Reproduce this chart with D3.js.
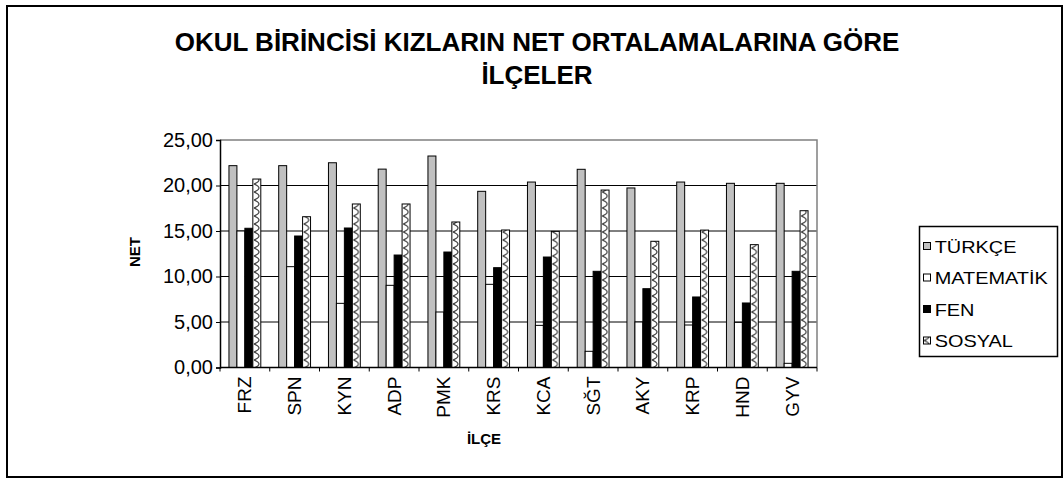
<!DOCTYPE html>
<html>
<head>
<meta charset="utf-8">
<script src="https://cdn.jsdelivr.net/npm/d3@7"></script>
<style>
  html, body { margin: 0; padding: 0; background: #ffffff; }
  svg { display: block; font-family: "Liberation Sans", Arial, sans-serif; }
</style>
</head>
<body>
<svg id="chart" width="1064" height="480"></svg>
<script>
// District codes along the x axis
const districts = ["FRZ", "SPN", "KYN", "ADP", "PMK", "KRS", "KCA", "SĞT", "AKY", "KRP", "HND", "GYV"];
// Subject series
const subjects = ["TÜRKÇE", "MATEMATİK", "FEN", "SOSYAL"];
// Average net scores per district
const turkce    = [22.18, 22.18, 22.50, 21.80, 23.24, 19.36, 20.38, 21.78, 19.73, 20.38, 20.24, 20.24];
const matematik = [15.00, 11.08, 7.05, 9.03, 6.10, 9.14, 4.63, 1.78, 5.00, 4.67, 4.96, 0.46];
const fen       = [15.30, 14.45, 15.33, 12.36, 12.69, 10.97, 12.14, 10.57, 8.66, 7.75, 7.09, 10.57];
const sosyal    = [20.71, 16.57, 17.97, 17.97, 15.99, 15.11, 14.96, 19.50, 13.87, 15.10, 13.50, 17.23];
// Value axis ticks
const yTicks = [0, 5, 10, 15, 20, 25];

const seriesValues = [turkce, matematik, fen, sosyal];
const rows = districts.map((d, i) => ({
  district: d,
  values: subjects.map((s, j) => ({ subject: s, value: seriesValues[j][i] }))
}));

const svg = d3.select("#chart");
const plot = { left: 220, right: 817, top: 140, bottom: 367.5 };

// Hatched fill for the SOSYAL series
const defs = svg.append("defs");
const pat = defs.append("pattern")
  .attr("id", "hatch")
  .attr("patternUnits", "userSpaceOnUse")
  .attr("width", 8).attr("height", 8);
pat.append("rect").attr("width", 8).attr("height", 8).attr("fill", "#ffffff");
pat.append("path")
  .attr("d", "M1,0 Q6,2 6,4 Q6,6 1,8")
  .attr("stroke", "#3a3a3a").attr("stroke-width", 1.2).attr("fill", "none");

const fills = {
  "TÜRKÇE": "#c0c0c0",
  "MATEMATİK": "#ffffff",
  "FEN": "#000000",
  "SOSYAL": "url(#hatch)"
};

// Outer frame
svg.append("rect")
  .attr("x", 7).attr("y", 6).attr("width", 1055).attr("height", 471)
  .attr("fill", "#fff").attr("stroke", "#000").attr("stroke-width", 2);

// Title
const title = svg.append("text")
  .attr("text-anchor", "middle")
  .attr("font-weight", "bold").attr("font-size", 26)
  .attr("fill", "#000");
title.append("tspan").attr("x", 537).attr("y", 51).text("OKUL BİRİNCİSİ KIZLARIN NET ORTALAMALARINA GÖRE");
title.append("tspan").attr("x", 537).attr("y", 84).text("İLÇELER");

const x0 = d3.scaleBand()
  .domain(districts)
  .range([plot.left, plot.right])
  .paddingInner(0.36)
  .paddingOuter(0.18);
const x1 = d3.scaleBand()
  .domain(subjects)
  .range([0, x0.bandwidth()]);
const y = d3.scaleLinear().domain([0, 25]).range([plot.bottom, plot.top]);

// Gridlines
svg.append("g")
  .selectAll("line")
  .data(yTicks.filter(t => t > 0 && t < 25))
  .join("line")
  .attr("x1", plot.left).attr("x2", plot.right)
  .attr("y1", d => y(d)).attr("y2", d => y(d))
  .attr("stroke", "#000").attr("stroke-width", 1);

// Plot frame: top and right edges
svg.append("path")
  .attr("d", `M${plot.left},${plot.top}H${plot.right}V${plot.bottom}`)
  .attr("fill", "none").attr("stroke", "#808080").attr("stroke-width", 1.5);

// Bars
const groups = svg.append("g")
  .selectAll("g")
  .data(rows)
  .join("g")
  .attr("transform", d => `translate(${x0(d.district)},0)`);
groups.selectAll("rect")
  .data(d => d.values)
  .join("rect")
  .attr("x", d => x1(d.subject))
  .attr("y", d => y(d.value))
  .attr("width", x1.bandwidth())
  .attr("height", d => y(0) - y(d.value))
  .attr("fill", d => fills[d.subject])
  .attr("stroke", "#000").attr("stroke-width", 1);

// Y axis
const yAxis = svg.append("g")
  .attr("transform", `translate(${plot.left},0)`)
  .call(d3.axisLeft(y).tickValues(yTicks).tickSize(4).tickPadding(3)
    .tickFormat(d => d3.format(".2f")(d).replace(".", ",")));
yAxis.select(".domain").attr("stroke", "#000").attr("stroke-width", 1.5);
yAxis.selectAll(".tick line").attr("stroke", "#000");
yAxis.selectAll(".tick text")
  .attr("font-size", 20).attr("fill", "#000")
  .attr("font-family", "'Liberation Sans', Arial, sans-serif");

// X axis: ticks sit between districts
const step = x0.step();
const xAxis = svg.append("g")
  .attr("transform", `translate(0,${plot.bottom})`);
xAxis.append("line")
  .attr("x1", plot.left).attr("x2", plot.right)
  .attr("stroke", "#000").attr("stroke-width", 1.5);
xAxis.selectAll("line.tk")
  .data(d3.range(districts.length + 1))
  .join("line").attr("class", "tk")
  .attr("x1", i => plot.left + i * step).attr("x2", i => plot.left + i * step)
  .attr("y1", 0).attr("y2", 4)
  .attr("stroke", "#000");
xAxis.selectAll("text")
  .data(districts)
  .join("text")
  .attr("transform", d => `translate(${x0(d) + x0.bandwidth() / 2 + 6.5},9) rotate(-90)`)
  .attr("text-anchor", "end")
  .attr("font-size", 19).attr("fill", "#000")
  .text(d => d);

// Axis titles
svg.append("text")
  .attr("transform", "translate(140,252) rotate(-90)")
  .attr("text-anchor", "middle")
  .attr("font-weight", "bold").attr("font-size", 15)
  .text("NET");
svg.append("text")
  .attr("x", 484).attr("y", 444)
  .attr("text-anchor", "middle")
  .attr("font-weight", "bold").attr("font-size", 15)
  .text("İLÇE");

// Legend
const legend = svg.append("g");
legend.append("rect")
  .attr("x", 919.5).attr("y", 226.5).attr("width", 138).attr("height", 130)
  .attr("fill", "#fff").attr("stroke", "#000").attr("stroke-width", 1.5);
const items = legend.selectAll("g")
  .data(subjects)
  .join("g")
  .attr("transform", (d, i) => `translate(923,${246 + i * 31.5})`);
items.append("rect")
  .attr("x", 0.5).attr("y", -3.5).attr("width", 7).attr("height", 7)
  .attr("fill", d => fills[d])
  .attr("stroke", "#000").attr("stroke-width", 1);
items.append("text")
  .attr("x", 10).attr("y", 6.5)
  .attr("font-size", 17).attr("fill", "#000")
  .attr("transform", "scale(1.17,1)")
  .text(d => d);
</script>
</body>
</html>
